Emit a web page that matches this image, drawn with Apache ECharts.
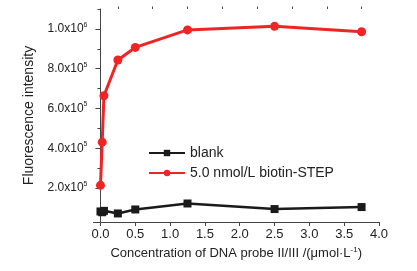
<!DOCTYPE html>
<html>
<head>
<meta charset="utf-8">
<script src="https://cdn.jsdelivr.net/npm/echarts@6/dist/echarts.min.js"></script>
<style>
  html, body { margin: 0; padding: 0; background: #fff; }
  #chart { width: 417px; height: 271px; }
</style>
</head>
<body>
<div id="chart"></div>
<script>
// concentration of DNA probe (umol/L)
const conc = [0, 0.025, 0.05, 0.25, 0.5, 1.25, 2.5, 3.75];
const blank = [83000, 79000, 86000, 73000, 93000, 123000, 95000, 105000];
const biotin = [214000, 431000, 664000, 844000, 907000, 995000, 1013000, 986000];
const seriesNames = ["blank", "5.0 nmol/L biotin-STEP"];

const xMajor = [0, 0.5, 1, 1.5, 2, 2.5, 3, 3.5, 4];
const xMinor = [0.25, 0.75, 1.25, 1.75, 2.25, 2.75, 3.25, 3.75];
const yMajor = [200000, 400000, 600000, 800000, 1000000];
const yMinor = [100000, 300000, 500000, 700000, 900000, 1100000];

const font = "Liberation Sans, Arial, sans-serif";
const textColor = "#222";
const axisColor = "#444";

var chart = echarts.init(document.getElementById("chart"));

function sciLabel(v) {
  let e = Math.floor(Math.log10(v) + 1e-9);
  let m = (v / Math.pow(10, e)).toFixed(1);
  return "{m|" + m + "x10}{e|" + e + "}";
}

const xBase = {
  type: "value",
  min: -0.1,
  max: 4.0,
  axisLine: { show: true, lineStyle: { color: axisColor, width: 1 } },
  splitLine: { show: false }
};
const yBase = {
  type: "value",
  min: 30000,
  max: 1100000,
  position: "left",
  axisLine: { show: true, lineStyle: { color: axisColor, width: 1 } },
  splitLine: { show: false }
};

var option = {
  animation: false,
  grid: { left: 93.5, right: 38, top: 9, bottom: 49 },
  legend: {
    left: 143,
    top: 141,
    orient: "vertical",
    itemWidth: 36,
    itemHeight: 8,
    itemGap: 6,
    textStyle: { fontFamily: font, fontSize: 14, color: textColor },
    data: seriesNames
  },
  xAxis: [
    Object.assign({}, xBase, {
      name: "Concentration of DNA probe II/III /(\u03bcmol\u00b7L{s|-1})",
      nameLocation: "middle",
      nameGap: 22,
      nameTextStyle: {
        fontFamily: font, fontSize: 13, color: textColor,
        rich: { s: { fontSize: 8, fontFamily: font, color: textColor, padding: [0, 0, 7, 0] } }
      },
      axisTick: { show: true, length: 4, customValues: xMajor, lineStyle: { color: axisColor } },
      axisLabel: {
        customValues: xMajor,
        margin: 6,
        fontFamily: font, fontSize: 13, color: textColor,
        formatter: v => v.toFixed(1)
      }
    }),
    Object.assign({}, xBase, {
      axisLine: { show: false },
      axisTick: { show: true, length: 2.5, customValues: xMinor, lineStyle: { color: axisColor } },
      axisLabel: { show: false }
    })
  ],
  yAxis: [
    Object.assign({}, yBase, {
      name: "Fluorescence intensity",
      nameLocation: "middle",
      nameGap: 57,
      nameTextStyle: { fontFamily: font, fontSize: 14, color: textColor },
      axisTick: { show: true, length: 5, customValues: yMajor, lineStyle: { color: axisColor } },
      axisLabel: {
        customValues: yMajor,
        margin: 6,
        formatter: sciLabel,
        rich: {
          m: { fontFamily: font, fontSize: 12, color: textColor },
          e: { fontFamily: font, fontSize: 7, color: textColor, padding: [0, 0, 8, 0] }
        }
      }
    }),
    Object.assign({}, yBase, {
      axisLine: { show: false },
      axisTick: { show: true, length: 3, customValues: yMinor, lineStyle: { color: axisColor } },
      axisLabel: { show: false }
    })
  ],
  series: [
    {
      name: seriesNames[0],
      type: "line",
      data: conc.map((c, i) => [c, blank[i]]),
      symbol: "rect",
      symbolSize: 8,
      itemStyle: { color: "#1a1a1a" },
      lineStyle: { color: "#1a1a1a", width: 2.5 }
    },
    {
      name: seriesNames[1],
      type: "line",
      data: conc.map((c, i) => [c, biotin[i]]),
      symbol: "circle",
      symbolSize: 9,
      itemStyle: { color: "#f02424" },
      lineStyle: { color: "#f02424", width: 3 }
    }
  ]
};

chart.setOption(option);
</script>
</body>
</html>
